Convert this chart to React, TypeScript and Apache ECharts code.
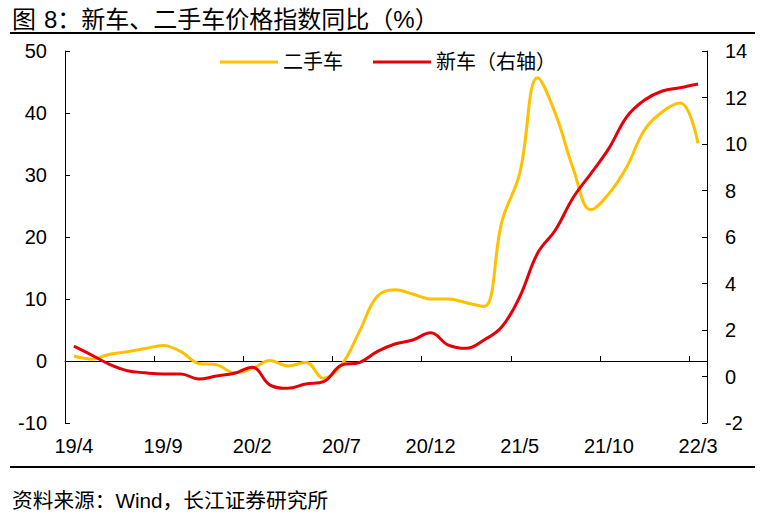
import React, { useEffect, useRef } from "react";
import * as echarts from "echarts";

const months = [
  "19/4", "19/5", "19/6", "19/7", "19/8", "19/9", "19/10", "19/11", "19/12",
  "20/1", "20/2", "20/3", "20/4", "20/5", "20/6", "20/7", "20/8", "20/9", "20/10", "20/11", "20/12",
  "21/1", "21/2", "21/3", "21/4", "21/5", "21/6", "21/7", "21/8", "21/9", "21/10", "21/11", "21/12",
  "22/1", "22/2", "22/3",
];

const usedCar = [
  0.8, 0.3, 1.1, 1.5, 2.0, 2.5, 1.5, -0.4, -0.6,
  -1.9, -1.2, 0.1, -0.8, -0.2, -2.8, -0.65, 4.7, 10.4, 11.5, 10.8, 10.0,
  10.0, 9.4, 8.8, 22.5, 30.3, 45.7, 39.9, 31.0, 24.4, 27.0, 31.3, 37.3,
  40.2, 41.6, 35.1,
];

const newCar = [
  1.31, 0.92, 0.52, 0.25, 0.16, 0.11, 0.11, -0.11, 0.02,
  0.14, 0.4, -0.37, -0.51, -0.32, -0.22, 0.49, 0.6, 1.07, 1.4, 1.57, 1.88,
  1.35, 1.21, 1.57, 2.14, 3.43, 5.3, 6.3, 7.7, 8.74, 9.81, 11.17, 11.89,
  12.28, 12.42, 12.58,
];

const leftTicks = { min: -10, max: 50, interval: 10 };
const rightTicks = { min: -2, max: 14, interval: 2 };

const titleLabel = "图";
const titleText = "8：新车、二手车价格指数同比（%）";
const sourceText = "资料来源：Wind，长江证券研究所";
const seriesNames = ["二手车", "新车（右轴）"];

const FONT = "'Liberation Sans', 'Noto Sans CJK SC', sans-serif";

export default function App() {
  const ref = useRef<HTMLDivElement>(null);

  useEffect(() => {
    if (!ref.current) return;
    const chart = echarts.init(ref.current, undefined, { renderer: "svg" });
    const axisLabel = { fontSize: 20, color: "#000", fontFamily: FONT };
    chart.setOption({
      animation: false,
      textStyle: { fontFamily: FONT },
      grid: { left: 65, right: 59, top: 51, bottom: 103 },
      legend: {
        left: 220,
        top: 52,
        padding: 0,
        itemGap: 30,
        itemWidth: 58,
        itemHeight: 3,
        icon: "rect",
        textStyle: { fontSize: 20, color: "#000", fontFamily: FONT },
        data: seriesNames,
      },
      xAxis: [
        {
          type: "category",
          data: months,
          position: "bottom",
          boundaryGap: true,
          axisLine: { show: false, onZero: false },
          axisTick: { show: false },
          axisLabel: { ...axisLabel, interval: 4, margin: 13 },
          splitLine: { show: false },
        },
        {
          type: "category",
          data: months,
          position: "bottom",
          boundaryGap: true,
          axisLine: { show: true, onZero: true, onZeroAxisIndex: 0, lineStyle: { color: "#000", width: 1 } },
          axisTick: { show: true, inside: true, length: 5, interval: 4, lineStyle: { color: "#000" } },
          axisLabel: { show: false },
          splitLine: { show: false },
        },
      ],
      yAxis: [
        {
          type: "value",
          position: "left",
          ...leftTicks,
          axisLine: { show: true, lineStyle: { color: "#000", width: 1 } },
          axisTick: { show: true, inside: true, length: 5, lineStyle: { color: "#000" } },
          axisLabel: { ...axisLabel, margin: 18 },
          splitLine: { show: false },
        },
        {
          type: "value",
          position: "right",
          ...rightTicks,
          axisLine: { show: true, lineStyle: { color: "#000", width: 1 } },
          axisTick: { show: true, inside: true, length: 5, lineStyle: { color: "#000" } },
          axisLabel: { ...axisLabel, margin: 18 },
          splitLine: { show: false },
        },
      ],
      series: [
        {
          name: seriesNames[0],
          type: "line",
          xAxisIndex: 0,
          yAxisIndex: 0,
          data: usedCar,
          smooth: 0.4,
          showSymbol: false,
          color: "#FFC000",
          lineStyle: { width: 3, color: "#FFC000" },
        },
        {
          name: seriesNames[1],
          type: "line",
          xAxisIndex: 0,
          yAxisIndex: 1,
          data: newCar,
          smooth: 0.4,
          showSymbol: false,
          color: "#E3000B",
          lineStyle: { width: 3, color: "#E3000B" },
        },
      ],
      graphic: [
        {
          type: "text",
          left: 12,
          top: 7,
          style: { text: titleLabel, fontSize: 24, fill: "#000", fontFamily: FONT },
        },
        {
          type: "text",
          left: 44,
          top: 7,
          style: { text: titleText, fontSize: 24, fill: "#000", fontFamily: FONT },
        },
        {
          type: "line",
          shape: { x1: 10, y1: 33, x2: 755, y2: 33 },
          style: { stroke: "#000", lineWidth: 2 },
        },
        {
          type: "line",
          shape: { x1: 10, y1: 467, x2: 755, y2: 467 },
          style: { stroke: "#000", lineWidth: 2 },
        },
        {
          type: "text",
          left: 12,
          top: 490,
          style: { text: sourceText, fontSize: 20.7, fill: "#000", fontFamily: FONT },
        },
      ],
    });
    return () => chart.dispose();
  }, []);

  return (
    <div
      ref={ref}
      style={{ position: "fixed", left: 0, top: 0, width: 766, height: 526, background: "#fff" }}
    />
  );
}
